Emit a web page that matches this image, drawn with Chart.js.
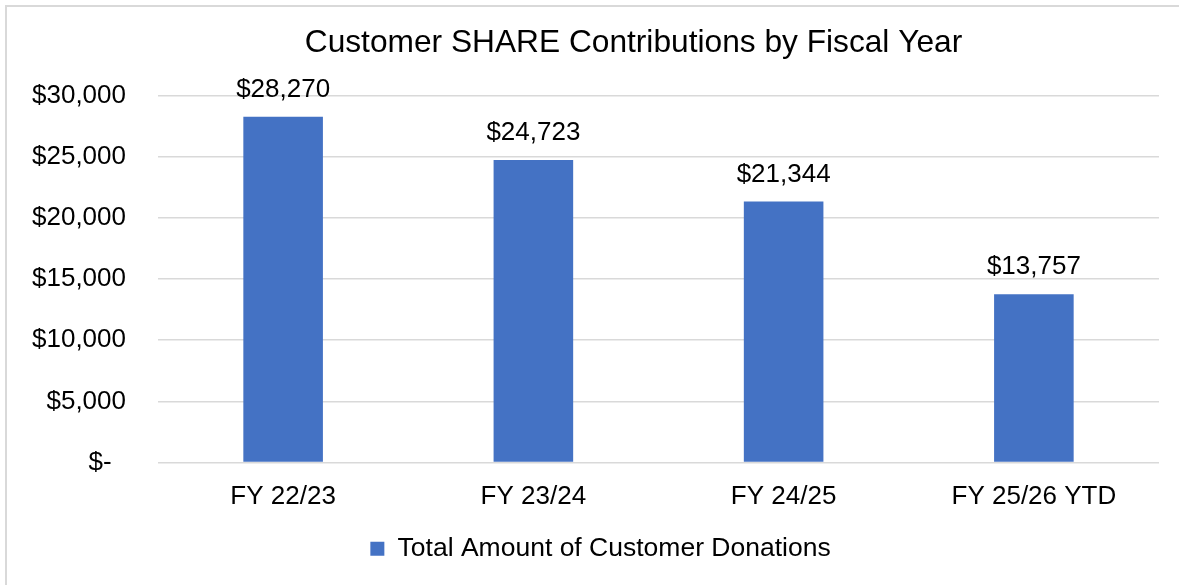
<!DOCTYPE html>
<html>
<head>
<meta charset="utf-8">
<script src="https://cdn.jsdelivr.net/npm/chart.js@4/dist/chart.umd.min.js"></script>
<style>
    html, body { margin: 0; padding: 0; background: #fff; overflow: hidden; }
    .wrap { position: relative; width: 1179px; height: 585px; overflow: hidden; }
    .frame {
        position: absolute; left: 5px; top: 5px; width: 1220px; height: 620px;
        border: 2px solid #d9d9d9; box-sizing: border-box;
    }
    canvas { position: absolute; left: 0; top: 0; }
</style>
</head>
<body>
<div class="wrap">
    <div class="frame"></div>
    <canvas id="chart" width="1179" height="585"></canvas>
</div>
<script>
const categories = ['FY 22/23', 'FY 23/24', 'FY 24/25', 'FY 25/26 YTD'];
const donations = [28270, 24723, 21344, 13757];
const yTickValues = [0, 5000, 10000, 15000, 20000, 25000, 30000];

const FONT = '"Liberation Sans", Arial, sans-serif';
const BAR_BLUE = '#4472C4';

const money = (v) => (v === 0 ? '$-  ' : '$' + v.toLocaleString('en-US'));

// value labels above each bar
const barLabels = {
    id: 'barLabels',
    afterDatasetsDraw(chart) {
        const { ctx } = chart;
        const meta = chart.getDatasetMeta(0);
        ctx.save();
        ctx.font = `26px ${FONT}`;
        ctx.fillStyle = '#000';
        ctx.textAlign = 'center';
        ctx.textBaseline = 'middle';
        meta.data.forEach((bar, i) => {
            ctx.fillText(money(donations[i]), bar.x, bar.y - 27);
        });
        ctx.restore();
    }
};

// title and legend are not centred on the same line in the original
const boxNudge = {
    id: 'boxNudge',
    afterLayout(chart) {
        if (chart.titleBlock) {
            chart.titleBlock.left += 54;
            chart.titleBlock.right += 54;
        }
        if (chart.legend) {
            chart.legend.left += 21;
            chart.legend.right += 21;
        }
    }
};

const ctx = document.getElementById('chart').getContext('2d');

new Chart(ctx, {
    type: 'bar',
    data: {
        labels: categories,
        datasets: [
            {
                label: 'Total Amount of Customer Donations',
                data: donations,
                backgroundColor: BAR_BLUE,
                borderWidth: 0,
                barPercentage: 0.318,
                categoryPercentage: 1
            }
        ]
    },
    options: {
        responsive: false,
        animation: false,
        devicePixelRatio: 1,
        layout: { padding: { left: 0, right: 20, top: 0, bottom: 13 } },
        plugins: {
            title: {
                display: true,
                text: 'Customer SHARE Contributions by Fiscal Year',
                color: '#000',
                font: { family: FONT, size: 31.7, weight: 'normal' },
                padding: { top: 24.5, bottom: 33 }
            },
            legend: {
                position: 'bottom',
                labels: {
                    color: '#000',
                    font: { family: FONT, size: 26.5 },
                    boxWidth: 14,
                    boxHeight: 14,
                    padding: 4.35
                }
            },
            tooltip: { enabled: false }
        },
        scales: {
            x: {
                grid: { display: false, drawTicks: false },
                border: { display: false },
                ticks: {
                    color: '#000',
                    font: { family: FONT, size: 26 },
                    padding: 18.7,
                    maxRotation: 0
                }
            },
            y: {
                min: 0,
                max: 30000,
                afterFit(scale) { scale.width = 158; },
                afterBuildTicks(scale) { scale.ticks = yTickValues.map((value) => ({ value })); },
                grid: { color: '#d9d9d9', lineWidth: 1.5, drawTicks: false },
                border: { display: false },
                ticks: {
                    color: '#000',
                    font: { family: FONT, size: 26 },
                    padding: 32,
                    callback: (v) => money(v)
                }
            }
        }
    },
    plugins: [barLabels, boxNudge]
});
</script>
</body>
</html>
